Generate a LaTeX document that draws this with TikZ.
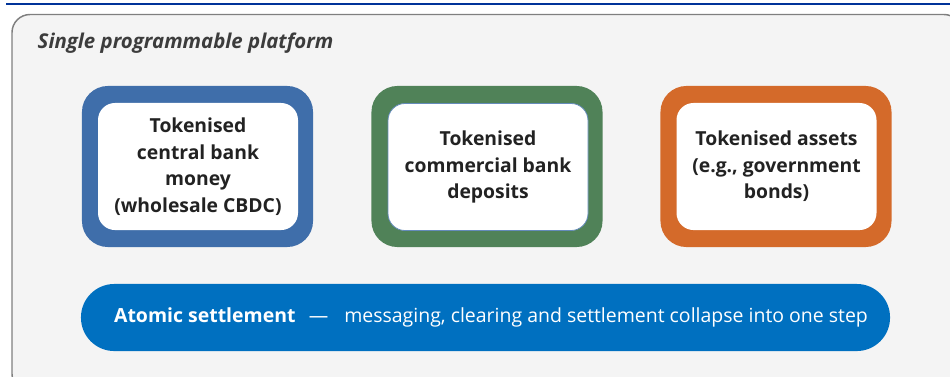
\documentclass[tikz,border=0pt]{standalone}
\usepackage{fontspec}
\setmainfont{Open Sans}
\definecolor{rulecol}{HTML}{003399}
\definecolor{framecol}{HTML}{7F7F7F}
\definecolor{panelcol}{HTML}{F4F4F4}
\definecolor{inkcol}{HTML}{222222}
\definecolor{titlecol}{HTML}{3C3C3C}
\definecolor{cbblue}{HTML}{3F6EAA}
\definecolor{dpgreen}{HTML}{508258}
\definecolor{asorange}{HTML}{D46A2A}
\definecolor{pillblue}{HTML}{0070C0}
\tikzset{
  frame/.style={fill=#1, rounded corners=19.5pt, minimum width=173.3pt, minimum height=120.8pt},
  card/.style={fill=white, rounded corners=12.8pt, minimum width=150pt, minimum height=95.3pt,
    align=center, text=inkcol, font=\bfseries\fontsize{14.5pt}{19.9pt}\selectfont},
  pill/.style={fill=pillblue, rounded corners=25pt, inner sep=0pt,
    minimum width=606.8pt, minimum height=50.3pt},
}
\begin{document}
\begin{tikzpicture}[x=0.75pt, y=-0.75pt]
\useasboundingbox (0,0) rectangle (950,376);
\clip (0,0) rectangle (950,376);
% rule on top and the platform panel
\draw[rulecol, line width=1.5pt] (6,4) -- (960,4);
\draw[framecol, fill=panelcol, line width=1.1pt, rounded corners=13.5pt] (12,14.5) rectangle (962,392);
\node[anchor=base west, text=titlecol, font=\bfseries\itshape\fontsize{15.3pt}{18pt}\selectfont] (title) at (33,48.5) {Single programmable platform};
% the three tokenised instruments
\node[frame=cbblue] (cbdcframe) at (197.5,166.5) {};
\node[card] (cbdc) at (198,166.5) {Tokenised\\ central bank\\ money\\ (wholesale CBDC)};
\node[frame=dpgreen] (depositsframe) at (487,166.5) {};
\node[card, draw=cbblue!80, line width=0.6pt] (deposits) at (488,167) {Tokenised\\ commercial bank\\ deposits};
\node[frame=asorange] (assetsframe) at (776,166.5) {};
\node[card] (assets) at (776.5,166.5) {Tokenised assets\\ (e.g., government\\ bonds)};
% settlement bar
\node[pill] (atomic) at (485.5,317.5) {};
\node[text=white, font=\fontsize{14.6pt}{17pt}\selectfont] (atomictext) at (491,317.5)
  {\textbf{Atomic settlement}\hspace{10pt}---\hspace{12pt}messaging, clearing and settlement collapse into one step};
\end{tikzpicture}
\end{document}
